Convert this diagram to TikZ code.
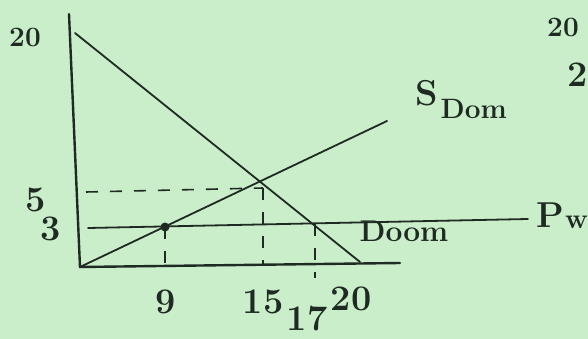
\documentclass[tikz,border=0pt]{standalone}
\usepackage{tikz}
\usetikzlibrary{positioning}
\definecolor{colpaper}{HTML}{C9EEC9}
\definecolor{colink}{HTML}{1F2A22}
\newcommand{\bigtxt}{\fontsize{36}{38}\selectfont\bfseries}
\newcommand{\smalltxt}{\fontsize{28}{30}\selectfont\bfseries}

\begin{document}
\begin{tikzpicture}[x=1pt, y=-1pt,
    every node/.style={font=\bigtxt, text=colink, inner sep=0pt},
    curve/.style={colink, line width=1.8pt, line cap=round},
    guide/.style={colink, line width=1.6pt, dash pattern=on 12pt off 12pt}]
  \fill[colpaper] (0,0) rectangle (588,339);
  \useasboundingbox (0,0) rectangle (588,339);
  % points of the sketch
  \coordinate (ytop) at (69,14);
  \coordinate (o) at (80,267);
  \coordinate (xend) at (400,263);
  \coordinate (dtop) at (75,33);
  \coordinate (dbot) at (360,262);
  \coordinate (send) at (387,121);
  \coordinate (pwa) at (88,228);
  \coordinate (pwb) at (528,219);
  \coordinate (q9) at (165,227);
  \coordinate (eq) at (263,188);
  \coordinate (l5) at (86,192);
  \coordinate (b9) at (165,265);
  \coordinate (b15) at (263,265);
  \coordinate (t17) at (315,224);
  \coordinate (b17) at (315,278);
  % axes and lines
  \draw[curve, line width=2.4pt] (ytop) -- (o) -- (xend);
  \draw[curve] (dtop) -- (dbot);
  \draw[curve] (o) -- (send);
  \draw[curve] (pwa) -- (pwb);
  \fill[colink] (q9) circle (4.5pt);
  \foreach \s/\t in {l5/eq, q9/b9, eq/b15, t17/b17} \draw[guide] (\s) -- (\t);
  % labels
  \node[font=\smalltxt] (p20) at (25,37) {20};
  \node (p5) at (36,200) {5};
  \node (p3) at (51,229) {3};
  \node (q9l) at (166,302) {9};
  \node (q15) at (263,302) {15};
  \node (q17) at (307,319) {17};
  \node (q20) at (351,299) {20};
  \node (s) at (427,93) {S};
  \node[font=\smalltxt, right=2pt of s, yshift=-16pt] (dom) {Dom};
  \node[font=\fontsize{30}{32}\selectfont\bfseries] (doom) at (404,231) {Doom};
  \node (pw) at (550,215) {P};
  \node[font=\smalltxt, anchor=east] (pww) at (588,222) {w};
  \node[font=\smalltxt] (t20) at (563,27) {20};
  \node[anchor=east] (t2) at (588,75) {2};
\end{tikzpicture}
\end{document}
